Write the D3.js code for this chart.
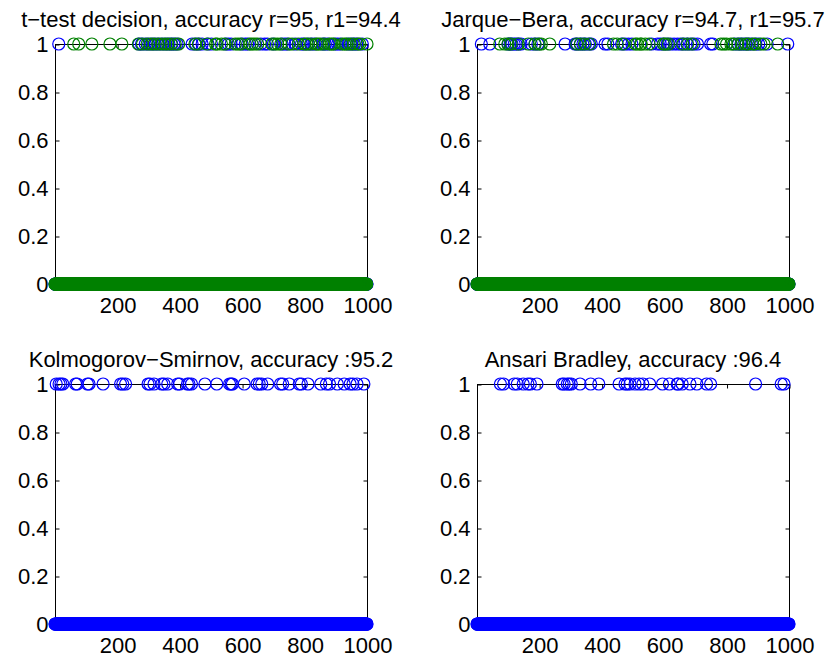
<!DOCTYPE html>
<html>
<head>
<meta charset="utf-8">
<script src="https://cdn.jsdelivr.net/npm/d3@7"></script>
<style>
  body { margin: 0; background: #fff; }
  svg text { font-family: "Liberation Sans", Arial, Helvetica, sans-serif; }
</style>
</head>
<body>
<svg id="chart" width="837" height="660"></svg>
<script>
// Number of simulated samples (x runs 1..N)
const N = 1000;
const xTicks = [200, 400, 600, 800, 1000];
const yTicks = [0, 0.2, 0.4, 0.6, 0.8, 1];

const titles = [
  "t\u2212test decision, accuracy r=95, r1=94.4",
  "Jarque\u2212Bera, accuracy r=94.7, r1=95.7",
  "Kolmogorov\u2212Smirnov, accuracy :95.2",
  "Ansari Bradley, accuracy :96.4"
];

// Sample indices where each test returned decision = 1 (all others are 0)
const ttestR = [13, 270, 278, 290, 301, 312, 322, 333, 345, 356, 366, 375, 382, 392, 440, 452, 462, 472, 491, 502,
  548, 556, 565, 600, 610, 618, 660, 672, 681, 700, 728, 737, 745, 770, 790, 797, 812, 823, 832, 858,
  866, 875, 898, 906, 915, 940, 951, 960, 967, 985];
const ttestR1 = [61, 77, 119, 177, 215, 268, 281, 296, 308, 318, 330, 341, 352, 362, 373, 386, 397, 449, 460, 488,
  515, 520, 534, 545, 578, 587, 596, 625, 632, 641, 650, 695, 705, 714, 724, 750, 760, 780, 801, 808,
  820, 837, 843, 850, 862, 880, 887, 893, 921, 929, 935, 946, 956, 971, 977, 1000];
const jbR = [15, 42, 101, 107, 113, 120, 126, 134, 142, 175, 186, 196, 283, 315, 322, 332, 340, 348, 358, 367,
  411, 420, 464, 475, 486, 497, 560, 579, 588, 598, 610, 621, 632, 643, 653, 663, 674, 685, 696, 707,
  749, 756, 826, 838, 846, 855, 863, 871, 880, 894, 903, 930, 996];
const jbR1 = [74, 90, 100, 110, 133, 165, 187, 200, 207, 234, 320, 332, 345, 362, 438, 450, 468, 508, 514, 525,
  527, 540, 552, 598, 604, 614, 660, 675, 690, 782, 791, 800, 814, 822, 836, 848, 862, 870, 884, 891,
  910, 920, 964];
const ksR = [5, 14, 20, 26, 67, 72, 105, 110, 155, 211, 218, 227, 299, 305, 318, 343, 350, 362, 394, 400,
  425, 430, 438, 481, 519, 560, 565, 569, 607, 648, 655, 663, 682, 723, 730, 751, 783, 790, 811, 852,
  870, 880, 905, 927, 946, 955, 968, 990];
const abR = [76, 86, 120, 130, 149, 164, 172, 193, 274, 280, 290, 296, 303, 331, 365, 391, 456, 475, 482, 491,
  507, 520, 532, 554, 595, 617, 642, 645, 658, 683, 705, 736, 749, 893, 975, 984];

const BLUE = "#0000ff", GREEN = "#008000";

// 0/1 decision for every sample index, built from the index lists above
const decisions = idx => {
  const s = new Set(idx);
  return d3.range(1, N + 1).map(i => ({ i, v: s.has(i) ? 1 : 0 }));
};

const panels = [
  { title: titles[0], col: 0, row: 0, series: [{ data: decisions(ttestR), color: BLUE }, { data: decisions(ttestR1), color: GREEN }] },
  { title: titles[1], col: 1, row: 0, series: [{ data: decisions(jbR), color: BLUE }, { data: decisions(jbR1), color: GREEN }] },
  { title: titles[2], col: 0, row: 1, series: [{ data: decisions(ksR), color: BLUE }] },
  { title: titles[3], col: 1, row: 1, series: [{ data: decisions(abR), color: BLUE }] }
];

// Subplot geometry
const colX = [55, 477], rowY = [44, 384];
const W = 312, H = 240;
const FONT = 22, TICK = 4;

const svg = d3.select("#chart");

panels.forEach(p => {
  const x0 = colX[p.col], y0 = rowY[p.row];
  const x = d3.scaleLinear().domain([1, N]).range([x0, x0 + W]);
  const y = d3.scaleLinear().domain([0, 1]).range([y0 + H, y0]);
  const g = svg.append("g");

  // axes box
  g.append("rect")
    .attr("x", x0 + 0.5).attr("y", y0 + 0.5)
    .attr("width", W).attr("height", H)
    .attr("fill", "none").attr("stroke", "#000").attr("stroke-width", 1);

  const style = sel => {
    sel.select(".domain").remove();
    sel.attr("font-size", null).attr("font-family", null).attr("color", "#000");
    sel.selectAll("text").attr("font-size", FONT).attr("fill", "#000");
  };

  g.append("g").attr("transform", `translate(0.5,${y0 + H + 0.5})`)
    .call(d3.axisBottom(x).tickValues(xTicks).tickSizeInner(-TICK).tickSizeOuter(0).tickPadding(13).tickFormat(d => String(d)))
    .call(style);
  g.append("g").attr("transform", `translate(0.5,${y0 + 0.5})`)
    .call(d3.axisTop(x).tickValues(xTicks).tickSizeInner(-TICK).tickSizeOuter(0).tickFormat(""))
    .call(style);
  g.append("g").attr("transform", `translate(${x0 + 0.5},0.5)`)
    .call(d3.axisLeft(y).tickValues(yTicks).tickSizeInner(-TICK).tickSizeOuter(0).tickPadding(7).tickFormat(d => String(d)))
    .call(style);
  g.append("g").attr("transform", `translate(${x0 + W + 0.5},0.5)`)
    .call(d3.axisRight(y).tickValues(yTicks).tickSizeInner(-TICK).tickSizeOuter(0).tickFormat(""))
    .call(style);

  // decision markers: open circles
  p.series.forEach(s => {
    g.append("g")
      .selectAll("circle")
      .data(s.data)
      .join("circle")
      .attr("cx", d => x(d.i))
      .attr("cy", d => y(d.v))
      .attr("r", 6)
      .attr("fill", "none")
      .attr("stroke", s.color)
      .attr("stroke-width", 1.2);
  });

  // title
  g.append("text")
    .attr("x", x0 + W / 2)
    .attr("y", y0 - 17)
    .attr("text-anchor", "middle")
    .attr("font-size", FONT)
    .attr("fill", "#000")
    .text(p.title);
});
</script>
</body>
</html>
